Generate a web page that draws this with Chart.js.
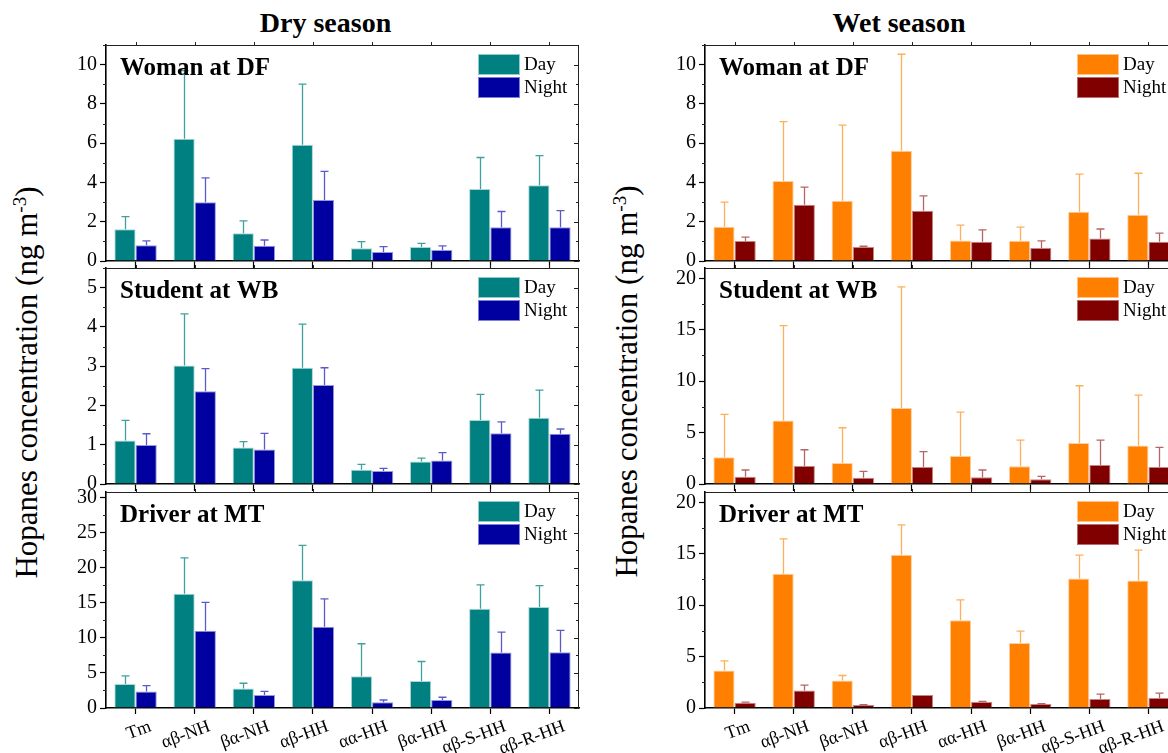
<!DOCTYPE html>
<html><head><meta charset="utf-8">
<script src="https://cdn.jsdelivr.net/npm/chart.js@4/dist/chart.umd.min.js"></script>
<style>
html,body{margin:0;padding:0;}
body{width:1168px;height:753px;overflow:hidden;background:#fff;position:relative;font-family:"Liberation Serif","Times New Roman",serif;color:#000;}
canvas{position:absolute;}
.title{position:absolute;font-weight:bold;font-size:28px;line-height:28px;white-space:nowrap;text-align:center;width:300px;}
.ytitle{position:absolute;font-size:31px;line-height:31px;height:31px;width:440px;text-align:center;white-space:nowrap;transform:rotate(-90deg);transform-origin:50% 50%;}
.ytitle sup{font-size:0.62em;vertical-align:0.55em;line-height:0;}
</style>
</head><body>
<div class="title" style="left:175.5px;top:8.5px;">Dry season</div>
<div class="title" style="left:749px;top:8.5px;">Wet season</div>
<div class="ytitle" style="left:-194px;top:366.5px;">Hopanes concentration (ng m<sup>-3</sup>)</div>
<div class="ytitle" style="left:406px;top:365.5px;">Hopanes concentration (ng m<sup>-3</sup>)</div>
<script>
// ---------- data ----------
const categories = ['Tm','αβ-NH','βα-NH','αβ-HH','αα-HH','βα-HH','αβ-S-HH','αβ-R-HH'];

// Dry season – Woman at DF
const dryDF_day     = [1.62, 6.22, 1.41, 5.92, 0.65, 0.71, 3.67, 3.86];
const dryDF_daySD   = [0.64, 3.48, 0.63, 3.09, 0.34, 0.19, 1.60, 1.51];
const dryDF_night   = [0.80, 2.99, 0.78, 3.11, 0.46, 0.56, 1.72, 1.72];
const dryDF_nightSD = [0.22, 1.24, 0.29, 1.45, 0.27, 0.21, 0.80, 0.85];
// Dry season – Student at WB
const dryWB_day     = [1.11, 3.02, 0.93, 2.96, 0.36, 0.57, 1.63, 1.69];
const dryWB_daySD   = [0.51, 1.31, 0.15, 1.11, 0.14, 0.09, 0.65, 0.70];
const dryWB_night   = [0.99, 2.36, 0.88, 2.52, 0.33, 0.60, 1.29, 1.28];
const dryWB_nightSD = [0.29, 0.58, 0.41, 0.44, 0.07, 0.20, 0.29, 0.12];
// Dry season – Driver at MT
const dryMT_day     = [3.43, 16.3, 2.77, 18.2, 4.53, 3.86, 14.16, 14.4];
const dryMT_daySD   = [1.15, 5.10, 0.76, 5.00, 4.63, 2.77, 3.39, 3.05];
const dryMT_night   = [2.34, 11.0, 1.86, 11.59, 0.81, 1.14, 7.92, 7.96];
const dryMT_nightSD = [0.86, 4.07, 0.52, 3.96, 0.33, 0.39, 2.91, 3.10];
// Wet season – Woman at DF
const wetDF_day     = [1.75, 4.08, 3.07, 5.61, 1.05, 1.03, 2.51, 2.36];
const wetDF_daySD   = [1.25, 3.02, 3.85, 4.92, 0.78, 0.70, 1.91, 2.11];
const wetDF_night   = [1.02, 2.86, 0.71, 2.56, 0.98, 0.66, 1.14, 0.98];
const wetDF_nightSD = [0.20, 0.90, 0.04, 0.76, 0.60, 0.36, 0.49, 0.44];
// Wet season – Student at WB
const wetWB_day     = [2.59, 6.18, 2.04, 7.38, 2.72, 1.72, 3.98, 3.75];
const wetWB_daySD   = [4.17, 9.22, 3.43, 11.78, 4.27, 2.55, 5.57, 4.89];
const wetWB_night   = [0.71, 1.75, 0.61, 1.65, 0.65, 0.45, 1.84, 1.65];
const wetWB_nightSD = [0.65, 1.58, 0.62, 1.49, 0.71, 0.29, 2.43, 1.91];
// Wet season – Driver at MT
const wetMT_day     = [3.65, 13.06, 2.68, 14.9, 8.52, 6.32, 12.58, 12.39];
const wetMT_daySD   = [0.93, 3.39, 0.48, 2.90, 2.00, 1.16, 2.29, 2.96];
const wetMT_night   = [0.52, 1.71, 0.29, 1.26, 0.58, 0.39, 0.87, 0.97];
const wetMT_nightSD = [0.06, 0.52, 0.03, 0.00, 0.07, 0.03, 0.48, 0.48];

const seriesNames = ['Day', 'Night'];

// ---------- styling ----------
const FONT = "'Liberation Serif','Times New Roman',serif";
Chart.defaults.font.family = FONT;
Chart.defaults.color = '#000';

const palettes = {
  dry: {day:'#008080', night:'#0000A0', dayEdge:'rgba(160,210,210,0.9)', nightEdge:'rgba(140,140,220,0.9)',
        dayErr:'rgba(0,128,128,0.75)', nightErr:'rgba(20,20,180,0.7)'},
  wet: {day:'#FF8000', night:'#800000', dayEdge:'rgba(255,200,150,0.9)', nightEdge:'rgba(190,120,120,0.9)',
        dayErr:'rgba(255,140,20,0.7)', nightErr:'rgba(140,20,20,0.65)'}
};

const panels = [
  {col:0,row:0,label:'Woman at DF',  day:dryDF_day, daySD:dryDF_daySD, night:dryDF_night, nightSD:dryDF_nightSD, max:11,   step:2, minor:1},
  {col:0,row:1,label:'Student at WB',day:dryWB_day, daySD:dryWB_daySD, night:dryWB_night, nightSD:dryWB_nightSD, max:5.5,  step:1, minor:0.5},
  {col:0,row:2,label:'Driver at MT', day:dryMT_day, daySD:dryMT_daySD, night:dryMT_night, nightSD:dryMT_nightSD, max:30.8, step:5, minor:2.5},
  {col:1,row:0,label:'Woman at DF',  day:wetDF_day, daySD:wetDF_daySD, night:wetDF_night, nightSD:wetDF_nightSD, max:11,   step:2, minor:1},
  {col:1,row:1,label:'Student at WB',day:wetWB_day, daySD:wetWB_daySD, night:wetWB_night, nightSD:wetWB_nightSD, max:21,   step:5, minor:2.5},
  {col:1,row:2,label:'Driver at MT', day:wetMT_day, daySD:wetMT_daySD, night:wetMT_night, nightSD:wetMT_nightSD, max:21,   step:5, minor:2.5}
];

// target plot-area boxes (layout only)
const colBox = [{L:106, R:578.5, yw:60}, {L:704.5, R:1177.5, yw:60}];
const rowBox = [{T:45, B:261, xh:7, tl:7}, {T:268, B:484, xh:7, tl:7}, {T:492, B:708, xh:45, tl:6}];

const isMult = (v, s) => Math.abs(v / s - Math.round(v / s)) < 1e-6;

function decor(p) {
  return {
    id: 'decor',
    afterDatasetsDraw(chart) {
      const ctx = chart.ctx, ys = chart.scales.y;
      chart.data.datasets.forEach((ds, i) => {
        const meta = chart.getDatasetMeta(i);
        ctx.save();
        ctx.strokeStyle = ds.errColor;
        ctx.lineWidth = 1.3;
        meta.data.forEach((el, j) => {
          const sd = ds.sd[j];
          if (!sd) return;
          const yTop = ys.getPixelForValue(ds.data[j] + sd);
          const x = Math.round(el.x) + 0.5;
          ctx.beginPath();
          ctx.moveTo(x, el.y);
          ctx.lineTo(x, yTop);
          ctx.moveTo(x - 4, yTop);
          ctx.lineTo(x + 4, yTop);
          ctx.stroke();
        });
        ctx.restore();
      });
    },
    afterDraw(chart) {
      const ctx = chart.ctx, a = chart.chartArea, ys = chart.scales.y, xs = chart.scales.x;
      ctx.save();
      ctx.strokeStyle = '#222';
      ctx.lineWidth = 1;
      ctx.beginPath();
      ctx.moveTo(a.left, Math.round(a.top) + 0.5);
      ctx.lineTo(a.right, Math.round(a.top) + 0.5);
      ctx.moveTo(Math.round(a.right) - 0.5, a.top);
      ctx.lineTo(Math.round(a.right) - 0.5, a.bottom);
      ctx.stroke();
      ctx.beginPath();
      for (let v = 0; v <= p.max + 1e-9; v += p.minor) {
        const y = Math.round(ys.getPixelForValue(v)) + 0.5;
        const major = isMult(v, p.step);
        if (!major) { ctx.moveTo(a.left - 3, y); ctx.lineTo(a.left, y); }
        const L = major ? 5 : 3;
        ctx.moveTo(a.right, y); ctx.lineTo(a.right - L, y);
      }
      for (let i = 0; i < categories.length; i++) {
        const x = Math.round(xs.getPixelForTick(i)) + 0.5;
        ctx.moveTo(x, a.top); ctx.lineTo(x, a.top - 3);
      }
      ctx.stroke();
      ctx.fillStyle = '#000';
      ctx.font = 'bold 25px ' + FONT;
      ctx.textBaseline = 'alphabetic';
      ctx.textAlign = 'left';
      ctx.fillText(p.label, a.left + 14, a.top + 30);
      const bx = a.right - 101, bw = 42, bh = 21;
      chart.data.datasets.forEach((ds, i) => {
        const by = a.top + 9 + i * 23;
        ctx.fillStyle = ds.backgroundColor;
        ctx.fillRect(bx, by, bw, bh);
        ctx.strokeStyle = ds.borderColor;
        ctx.lineWidth = 1;
        ctx.strokeRect(bx + 0.5, by + 0.5, bw - 1, bh - 1);
        ctx.fillStyle = '#000';
        ctx.font = '19px ' + FONT;
        ctx.textBaseline = 'middle';
        ctx.fillText(ds.label, bx + bw + 4, by + bh / 2 + 1);
      });
      ctx.restore();
    }
  };
}

function buildConfig(p, cb, rb) {
  const pal = p.col === 0 ? palettes.dry : palettes.wet;
  const bottom = p.row === 2;
  return {
    type: 'bar',
    data: {
      labels: categories,
      datasets: [
        {label: seriesNames[0], data: p.day, sd: p.daySD, backgroundColor: pal.day, borderColor: pal.dayEdge,
         borderWidth: 1, errColor: pal.dayErr, categoryPercentage: 0.717, barPercentage: 1},
        {label: seriesNames[1], data: p.night, sd: p.nightSD, backgroundColor: pal.night, borderColor: pal.nightEdge,
         borderWidth: 1, errColor: pal.nightErr, categoryPercentage: 0.717, barPercentage: 1}
      ]
    },
    options: {
      responsive: false, maintainAspectRatio: false, animation: false, devicePixelRatio: 1,
      layout: {padding: {top: 12, right: 8, left: 0, bottom: 0}},
      plugins: {legend: {display: false}, tooltip: {enabled: false}},
      scales: {
        x: {
          offset: true,
          grid: {offset: false, drawOnChartArea: false, drawTicks: true, tickLength: rb.tl, tickColor: '#000', tickWidth: 1.2},
          border: {color: '#000', width: 1.6},
          ticks: {display: bottom, maxRotation: 20, minRotation: 20, autoSkip: false, color: '#000',
                  font: {size: 18, family: FONT}, padding: 2, labelOffset: 15},
          afterFit: s => { s.height = rb.xh; }
        },
        y: {
          min: 0, max: p.max,
          ticks: {stepSize: p.step, color: '#000', font: {size: 20, family: FONT}, padding: 3},
          grid: {drawOnChartArea: false, tickLength: 6, tickColor: '#000', tickWidth: 1.2},
          border: {color: '#000', width: 1.6},
          afterBuildTicks: s => {
            const t = [];
            for (let v = 0; v <= p.max + 1e-9; v += p.step) t.push({value: Math.round(v * 1000) / 1000});
            s.ticks = t;
          },
          afterFit: s => { s.width = cb.yw; }
        }
      }
    },
    plugins: [decor(p)]
  };
}

function makeCanvas(w, h) {
  const cv = document.createElement('canvas');
  cv.width = w; cv.height = h;
  cv.style.width = w + 'px'; cv.style.height = h + 'px';
  document.body.appendChild(cv);
  return cv;
}

function makeChart(p) {
  const cb = colBox[p.col], rb = rowBox[p.row];
  let w = 560, h = 280;
  let cv = makeCanvas(w, h);
  let ch = new Chart(cv, buildConfig(p, cb, rb));
  let a = ch.chartArea;
  const nw = Math.round(w + (cb.R - cb.L) - (a.right - a.left));
  const nh = Math.round(h + (rb.B - rb.T) - (a.bottom - a.top));
  ch.destroy(); cv.remove();
  cv = makeCanvas(nw, nh);
  ch = new Chart(cv, buildConfig(p, cb, rb));
  a = ch.chartArea;
  cv.style.left = Math.round(cb.L - a.left) + 'px';
  cv.style.top = Math.round(rb.T - a.top) + 'px';
}

panels.forEach(makeChart);
</script>
</body></html>
